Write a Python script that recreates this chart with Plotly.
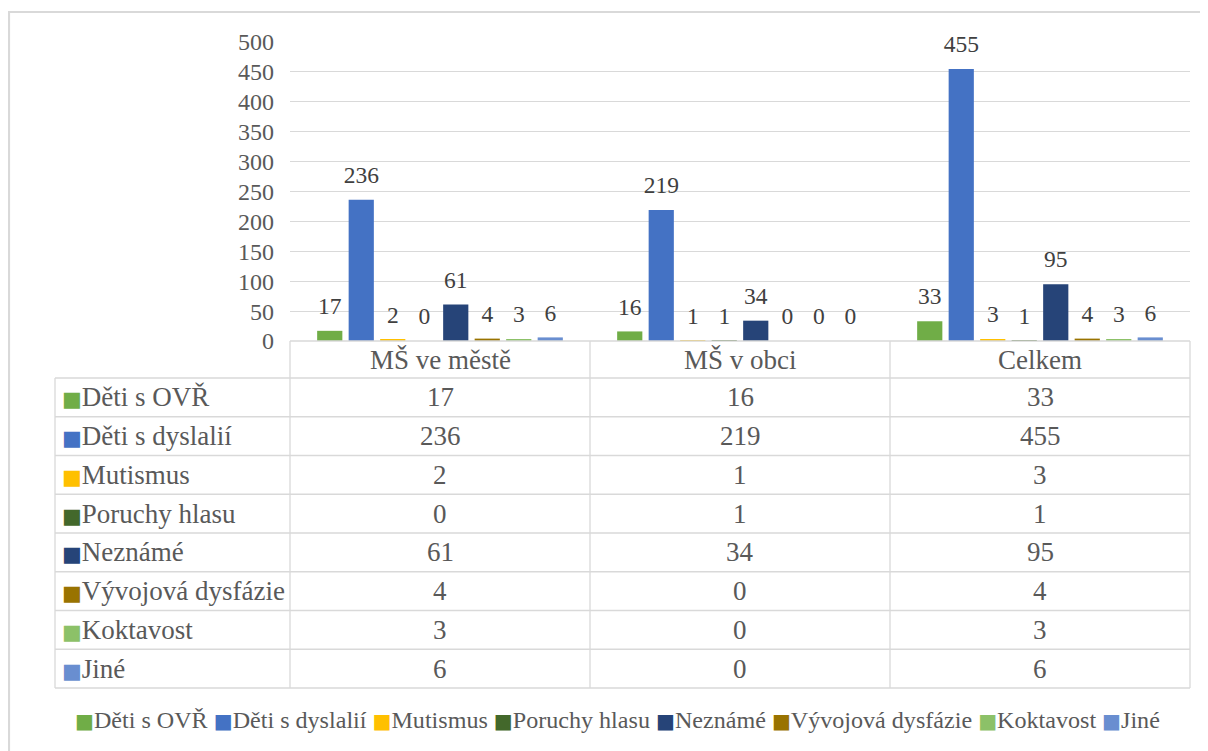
import plotly.graph_objects as go

# ---------------- data ----------------
categories = ["MŠ ve městě", "MŠ v obci", "Celkem"]
series_names = ["Děti s OVŘ", "Děti s dyslalií", "Mutismus", "Poruchy hlasu",
                "Neznámé", "Vývojová dysfázie", "Koktavost", "Jiné"]
deti_ovr = [17, 16, 33]
deti_dyslalie = [236, 219, 455]
mutismus = [2, 1, 3]
poruchy_hlasu = [0, 1, 1]
nezname = [61, 34, 95]
vyvojova_dysfazie = [4, 0, 4]
koktavost = [3, 0, 3]
jine = [6, 0, 6]
series_values = [deti_ovr, deti_dyslalie, mutismus, poruchy_hlasu,
                 nezname, vyvojova_dysfazie, koktavost, jine]
y_ticks = [0, 50, 100, 150, 200, 250, 300, 350, 400, 450, 500]

colors = ["#70AD47", "#4472C4", "#FFC000", "#43682B",
          "#264478", "#997300", "#8CC168", "#698ED0"]

# ---------------- layout helpers ----------------
W, H = 1208, 751
OFF = 8  # page body margin: figure origin sits at page (8, 8)
FONT = "Liberation Serif, Times New Roman, serif"
SQ_FONT = "DejaVu Sans"
TXT = "#595959"
LBL = "#404040"
GRID = "#D9D9D9"


def px_x(x):
    return (x - OFF) / W


def px_y(y):
    return 1 - (y - OFF) / H


PLOT_L, PLOT_R, PLOT_T, PLOT_B = 290, 1190, 42, 341
TAB_L = 55
HEAD_B = 378
ROW_H = 38.75

fig = go.Figure()

for name, vals, col in zip(series_names, series_values, colors):
    fig.add_trace(go.Bar(
        x=categories, y=vals, name=name, offsetgroup=name,
        marker=dict(color=col, line=dict(width=0)),
        showlegend=False, hoverinfo="x+y+name",
    ))
for name, vals, col in zip(series_names, series_values, colors):
    fig.add_trace(go.Scatter(
        x=categories, y=vals, offsetgroup=name, mode="markers+text",
        text=[str(v) for v in vals], textposition="top center",
        textfont=dict(family=FONT, size=23.5, color=LBL),
        marker=dict(size=16, color="rgba(0,0,0,0)"),
        showlegend=False, hoverinfo="skip", cliponaxis=False,
    ))

shapes = []
annotations = []
LW = 1.3

# table horizontal lines
row_lines = [HEAD_B + i * ROW_H for i in range(len(series_names) + 1)]
shapes.append(dict(type="line", xref="paper", yref="paper",
                   x0=px_x(PLOT_L), x1=px_x(PLOT_R), y0=px_y(PLOT_B), y1=px_y(PLOT_B),
                   line=dict(color=GRID, width=LW)))
for yl in row_lines:
    shapes.append(dict(type="line", xref="paper", yref="paper",
                       x0=px_x(TAB_L), x1=px_x(PLOT_R), y0=px_y(yl), y1=px_y(yl),
                       line=dict(color=GRID, width=LW)))
# table vertical lines
col_w = (PLOT_R - PLOT_L) / len(categories)
for i in range(len(categories) + 1):
    xv = PLOT_L + i * col_w
    shapes.append(dict(type="line", xref="paper", yref="paper",
                       x0=px_x(xv), x1=px_x(xv), y0=px_y(PLOT_B), y1=px_y(row_lines[-1]),
                       line=dict(color=GRID, width=LW)))
shapes.append(dict(type="line", xref="paper", yref="paper",
                   x0=px_x(TAB_L), x1=px_x(TAB_L), y0=px_y(HEAD_B), y1=px_y(row_lines[-1]),
                   line=dict(color=GRID, width=LW)))
# outer chart border (top and left edges visible)
shapes.append(dict(type="rect", xref="paper", yref="paper",
                   x0=px_x(9), x1=1.05, y0=-0.05, y1=px_y(12),
                   line=dict(color=GRID, width=2.2)))

# header texts
for cat in categories:
    annotations.append(dict(x=cat, xref="x", y=px_y((PLOT_B + HEAD_B) / 2), yref="paper",
                            text=cat, showarrow=False, yanchor="middle",
                            font=dict(family=FONT, size=27, color=TXT)))
# rows
for r, (name, vals, col) in enumerate(zip(series_names, series_values, colors)):
    yc = px_y(HEAD_B + (r + 0.5) * ROW_H)
    annotations.append(dict(
        x=px_x(60), xref="paper", y=yc, yref="paper", xanchor="left", yanchor="middle",
        text=(f"<span style='color:{col};font-family:{SQ_FONT};font-size:21px'>■</span>"
              f"{name}"),
        showarrow=False, font=dict(family=FONT, size=27, color=TXT)))
    for cat, v in zip(categories, vals):
        annotations.append(dict(x=cat, xref="x", y=yc, yref="paper", yanchor="middle",
                                text=str(v), showarrow=False,
                                font=dict(family=FONT, size=27, color=TXT)))

# legend (drawn as a single text row)
legend_text = " ".join(
    f"<span style='color:{c};font-family:{SQ_FONT};font-size:20px'>■</span>{n}"
    for n, c in zip(series_names, colors))
annotations.append(dict(x=px_x(617), xref="paper", y=px_y(720), yref="paper",
                        xanchor="center", yanchor="middle", text=legend_text,
                        showarrow=False, font=dict(family=FONT, size=24.1, color=TXT)))

fig.update_layout(
    width=W, height=H,
    margin=dict(l=0, r=0, t=0, b=0, autoexpand=False),
    paper_bgcolor="white", plot_bgcolor="white",
    barmode="group", bargap=0.16, bargroupgap=0.2,
    scattermode="group", scattergap=0.16,
    showlegend=False,
    font=dict(family=FONT, color=TXT),
    xaxis=dict(domain=[px_x(PLOT_L), px_x(PLOT_R)], range=[-0.5, 2.5], automargin=False,
               showticklabels=False, showgrid=False, zeroline=False, ticks=""),
    yaxis=dict(domain=[px_y(PLOT_B), px_y(PLOT_T)], range=[0, 500], automargin=False,
               tickvals=y_ticks, showgrid=True, gridcolor=GRID, gridwidth=LW,
               zeroline=False, ticks="", ticklabelstandoff=15,
               tickfont=dict(family=FONT, size=24, color=TXT)),
    shapes=shapes, annotations=annotations,
)

fig.write_html("out.html")
